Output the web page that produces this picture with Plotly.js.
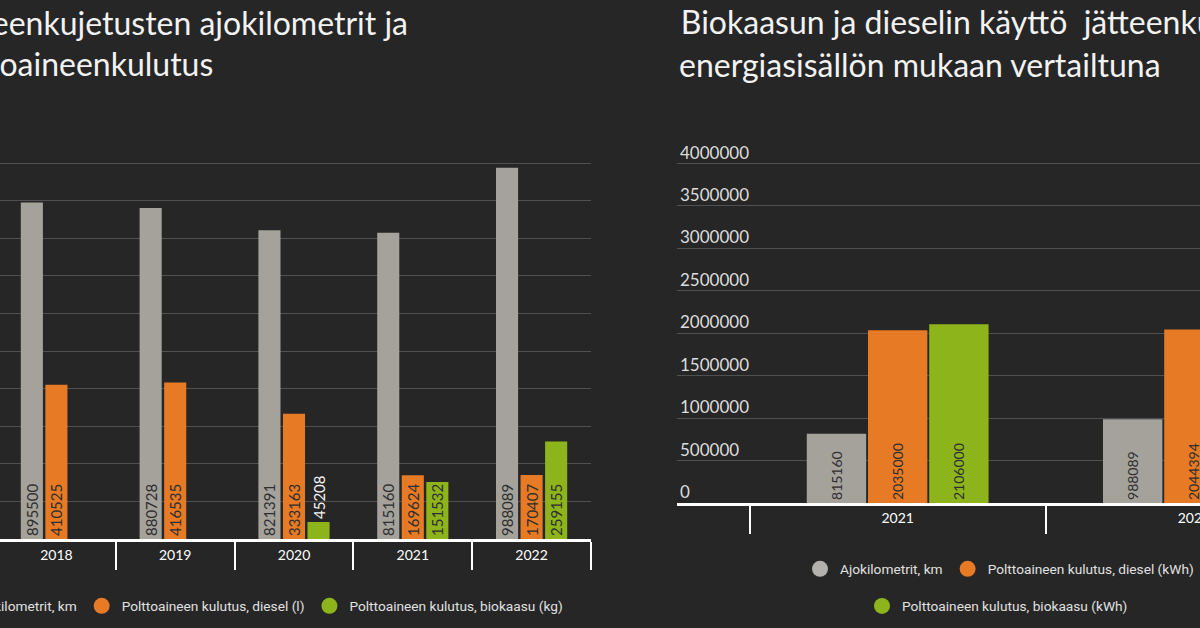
<!DOCTYPE html>
<html>
<head>
<meta charset="utf-8">
<script src="https://cdn.plot.ly/plotly-3.0.1.min.js"></script>
<style>
  html, body { margin: 0; padding: 0; width: 1200px; height: 628px; overflow: hidden; background: #262626; }
  #vasen { position: absolute; left: -120px; top: 0; width: 740px; height: 628px; }
  #oikea { position: absolute; left: 600px; top: 0; width: 800px; height: 628px; }
</style>
</head>
<body>
<div id="vasen"></div>
<div id="oikea"></div>
<script>
// vasen kaavio: vuodet ja sarjat
const vuodet = ['2018', '2019', '2020', '2021', '2022']
const ajokm = [895500, 880728, 821391, 815160, 988089]
const dieselL = [410525, 416535, 333163, 169624, 170407]
const biokaasuKg = [null, null, 45208, 151532, 259155]

// oikea kaavio: energiasisältö (kWh)
const vuodetE = ['2021', '2022']
const ajokmE = [815160, 988089]
const dieselKwh = [2035000, 2044394]
const biokaasuKwh = [2106000, 3602000]   // 2022 arvo ei näy kuvassa, arvioitu

const nimetVasen = ['Ajokilometrit, km', 'Polttoaineen kulutus, diesel (l)', 'Polttoaineen kulutus, biokaasu (kg)']
const nimetOikea = ['Ajokilometrit, km', 'Polttoaineen kulutus, diesel (kWh)', 'Polttoaineen kulutus, biokaasu (kWh)']

const harmaa = '#a5a29b'
const oranssi = '#e67a25'
const vihrea = '#8db51b'
const tekstiTumma = '#2e2e2e'
const otsikkoFontti = { family: 'Lato', size: 32, color: '#f2f2f2' }

function teksti(arvot) {
  return arvot.map(function (v) { return v == null ? '' : String(v) })
}

// pylväs, jonka luku on pystyssä pylvään juuressa
function pylvas(x, y, vari, koko, paikka) {
  return {
    type: 'bar', x: x, y: y,
    marker: { color: vari },
    text: teksti(y),
    textposition: paikka || 'inside',
    insidetextanchor: 'start',
    textangle: -90,
    constraintext: 'none',
    insidetextfont: { family: 'Lato', size: koko, color: tekstiTumma },
    outsidetextfont: { family: 'Lato', size: koko, color: '#f2f2f2' },
    showlegend: false,
    hoverinfo: 'x+y'
  }
}

// selitteen pallot (ei dataa)
function selite(nimi, vari, selitin) {
  return {
    type: 'scatter', mode: 'markers', x: [null], y: [null],
    name: nimi, marker: { color: vari, size: 17 }, legend: selitin || 'legend'
  }
}

try {
  // ---------- vasen ----------
  var dataV = [
    pylvas(vuodet, ajokm, harmaa, 15),
    pylvas(vuodet, dieselL, oranssi, 15),
    pylvas(vuodet, biokaasuKg, vihrea, 15, ['inside', 'inside', 'outside', 'inside', 'inside']),
    selite(nimetVasen[0], '#b3b1ac'),
    selite(nimetVasen[1], oranssi),
    selite(nimetVasen[2], vihrea)
  ]

  var layoutV = {
    paper_bgcolor: 'rgba(0,0,0,0)',
    plot_bgcolor: 'rgba(0,0,0,0)',
    margin: { l: 117, r: 29, t: 161, b: 89, autoexpand: false },
    barmode: 'group', bargap: 0.38, bargroupgap: 0.1,
    title: {
      text: 'Jätteenkujetusten ajokilometrit ja',
      xref: 'container', x: 0.7135, xanchor: 'right',
      yref: 'container', y: 0.9626, yanchor: 'middle',
      font: otsikkoFontti
    },
    annotations: [{
      text: 'polttoaineenkulutus', showarrow: false,
      xref: 'paper', x: 0.367, xanchor: 'right',
      yref: 'paper', y: 1.257, yanchor: 'middle',
      font: otsikkoFontti
    }],
    xaxis: {
      type: 'category', tickson: 'boundaries', ticks: 'outside', ticklen: 28, tickwidth: 2,
      tickcolor: '#ffffff', showline: true, linecolor: '#ffffff', linewidth: 3,
      ticklabelstandoff: 1, showgrid: false,
      tickfont: { family: 'Lato', size: 14, color: '#ffffff' }
    },
    yaxis: {
      range: [0, 1006000], dtick: 100000, tickformat: 'd', showticklabels: false,
      gridcolor: '#505050', gridwidth: 1, zeroline: false
    },
    legend: {
      orientation: 'h', xref: 'paper', x: -0.106, xanchor: 'left',
      yref: 'paper', y: -0.177, yanchor: 'middle',
      font: { family: 'Roboto', size: 13.7, color: '#e0e0e0' },
      itemsizing: 'trace'
    }
  }

  Plotly.newPlot('vasen', dataV, layoutV, { staticPlot: true })

  // ---------- oikea ----------
  var dataO = [
    pylvas(vuodetE, ajokmE, harmaa, 14),
    pylvas(vuodetE, dieselKwh, oranssi, 14),
    pylvas(vuodetE, biokaasuKwh, vihrea, 14),
    selite(nimetOikea[0], '#b3b1ac'),
    selite(nimetOikea[1], oranssi),
    selite(nimetOikea[2], vihrea, 'legend2')
  ]

  var layoutO = {
    paper_bgcolor: 'rgba(0,0,0,0)',
    plot_bgcolor: 'rgba(0,0,0,0)',
    margin: { l: 77, r: 58, t: 160.5, b: 125, autoexpand: false },
    barmode: 'group', bargap: 0.38, bargroupgap: 0.03,
    title: {
      text: 'Biokaasun ja dieselin käyttö  jätteenkuljetuksissa',
      xref: 'container', x: 0.101, xanchor: 'left',
      yref: 'container', y: 0.964, yanchor: 'middle',
      font: otsikkoFontti
    },
    annotations: [{
      text: 'energiasisällön mukaan vertailtuna', showarrow: false,
      xref: 'paper', x: 0, xanchor: 'left',
      yref: 'paper', y: 1.282, yanchor: 'middle',
      font: otsikkoFontti
    }],
    xaxis: {
      type: 'category', range: [-0.745, 1.5], tickson: 'boundaries', ticks: 'outside',
      ticklen: 28, tickwidth: 2, tickcolor: '#ffffff',
      showline: true, linecolor: '#ffffff', linewidth: 3,
      ticklabelstandoff: 0, showgrid: false,
      tickfont: { family: 'Lato', size: 14, color: '#ffffff' }
    },
    yaxis: {
      range: [0, 4030000], dtick: 500000, tickformat: 'd',
      ticklabelposition: 'inside', ticklabelshift: -11, ticklabeloverflow: 'allow',
      gridcolor: '#505050', gridwidth: 1, zeroline: false,
      tickfont: { family: 'Lato', size: 17, color: '#dddddd' }
    },
    legend: {
      orientation: 'h', xref: 'container', x: 0.25, xanchor: 'left',
      yref: 'container', y: 0.094, yanchor: 'middle',
      font: { family: 'Roboto', size: 13.7, color: '#e0e0e0' },
      itemsizing: 'trace'
    },
    legend2: {
      orientation: 'h', xref: 'container', x: 0.3275, xanchor: 'left',
      yref: 'container', y: 0.035, yanchor: 'middle',
      font: { family: 'Roboto', size: 13.7, color: '#e0e0e0' },
      itemsizing: 'trace'
    }
  }

  Plotly.newPlot('oikea', dataO, layoutO, { staticPlot: true })
} catch (err) {
  console.error(err)
}
</script>
</body>
</html>
